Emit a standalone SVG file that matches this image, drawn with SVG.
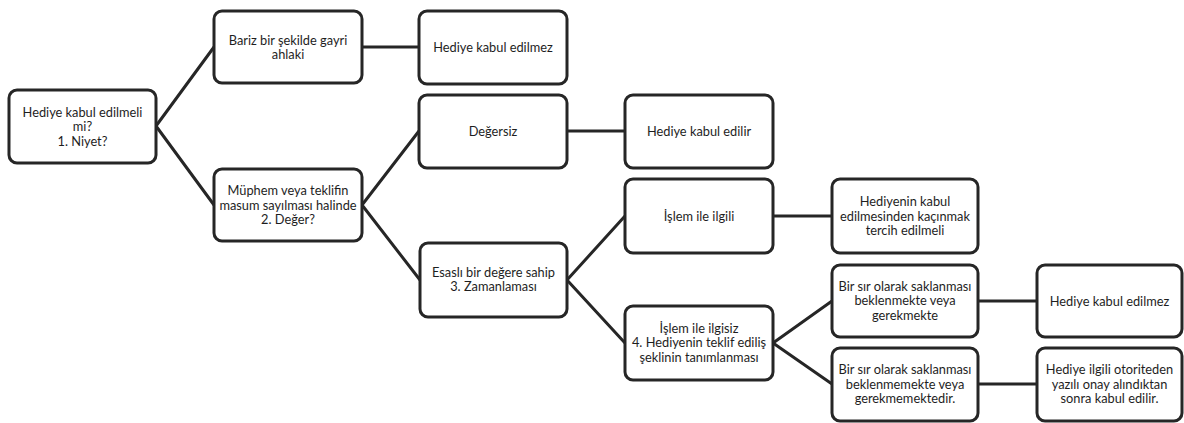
<svg xmlns="http://www.w3.org/2000/svg" width="1184" height="423" viewBox="0 0 1184 423">
<style>
.box{fill:#fff;stroke:#262626;stroke-width:3;}
.t{font-family:Lato,"Open Sans",sans-serif;font-size:12.8px;fill:#1e1e1e;text-anchor:middle;}
.c{stroke:#262626;stroke-width:3;fill:none;stroke-linecap:round;}
</style>
<rect width="1184" height="423" fill="#fff"/>
<g id="connectors">
<path class="c" d="M156,126 L214,47 M156,126 L214,205"/>
<path class="c" d="M362,47 L419,47"/>
<path class="c" d="M362,205 L419,131 M362,205 L420,280"/>
<path class="c" d="M567,131 L625,131"/>
<path class="c" d="M567,280 L625,216 M567,280 L625,343"/>
<path class="c" d="M773,216 L832,216"/>
<path class="c" d="M773,343 L832,301 M773,343 L832,384"/>
<path class="c" d="M978,301 L1036,301 M978,384 L1036,384"/>
</g>
<g id="root"><rect class="box" x="9" y="90" width="147" height="73" rx="8"/>
<text class="t" x="82.5" y="116.5">Hediye kabul edilmeli</text><text class="t" x="82.5" y="131">mi?</text><text class="t" x="82.5" y="145.5">1. Niyet?</text></g>
<g id="bariz"><rect class="box" x="214" y="11" width="148" height="72" rx="8"/>
<text class="t" x="288" y="44.5">Bariz bir şekilde gayri</text><text class="t" x="288" y="59">ahlaki</text></g>
<g id="muphem"><rect class="box" x="214" y="169" width="148" height="72" rx="8"/>
<text class="t" x="288" y="195">Müphem veya teklifin</text><text class="t" x="288" y="209.5">masum sayılması halinde</text><text class="t" x="288" y="224">2. Değer?</text></g>
<g id="edilmez1"><rect class="box" x="419" y="11" width="148" height="73" rx="8"/>
<text class="t" x="493" y="51.5">Hediye kabul edilmez</text></g>
<g id="degersiz"><rect class="box" x="419" y="95" width="148" height="73" rx="8"/>
<text class="t" x="493" y="135.5">Değersiz</text></g>
<g id="esasli"><rect class="box" x="420" y="243" width="147" height="74" rx="8"/>
<text class="t" x="493.5" y="276.5">Esaslı bir değere sahip</text><text class="t" x="493.5" y="291">3. Zamanlaması</text></g>
<g id="edilir"><rect class="box" x="625" y="95" width="148" height="73" rx="8"/>
<text class="t" x="699" y="135.5">Hediye kabul edilir</text></g>
<g id="ilgili"><rect class="box" x="625" y="179" width="148" height="74" rx="8"/>
<text class="t" x="699" y="220.5">İşlem ile ilgili</text></g>
<g id="ilgisiz"><rect class="box" x="625" y="306" width="148" height="74" rx="8"/>
<text class="t" x="699" y="332.5">İşlem ile ilgisiz</text><text class="t" x="699" y="347">4. Hediyenin teklif ediliş</text><text class="t" x="699" y="361.5">şeklinin tanımlanması</text></g>
<g id="kacinmak"><rect class="box" x="832" y="179" width="146" height="74" rx="8"/>
<text class="t" x="905" y="206">Hediyenin kabul</text><text class="t" x="905" y="220.5">edilmesinden kaçınmak</text><text class="t" x="905" y="235">tercih edilmeli</text></g>
<g id="sir1"><rect class="box" x="832" y="265" width="146" height="72" rx="8"/>
<text class="t" x="905" y="290.5">Bir sır olarak saklanması</text><text class="t" x="905" y="305">beklenmekte veya</text><text class="t" x="905" y="319.5">gerekmekte</text></g>
<g id="sir2"><rect class="box" x="832" y="348" width="146" height="73" rx="8"/>
<text class="t" x="905" y="374">Bir sır olarak saklanması</text><text class="t" x="905" y="388.5">beklenmemekte veya</text><text class="t" x="905" y="403">gerekmemektedir.</text></g>
<g id="edilmez2"><rect class="box" x="1037" y="265" width="145" height="72" rx="8"/>
<text class="t" x="1109.5" y="305.5">Hediye kabul edilmez</text></g>
<g id="onay"><rect class="box" x="1037" y="348" width="145" height="73" rx="8"/>
<text class="t" x="1109.5" y="374">Hediye ilgili otoriteden</text><text class="t" x="1109.5" y="388.5">yazılı onay alındıktan</text><text class="t" x="1109.5" y="403">sonra kabul edilir.</text></g>
</svg>
